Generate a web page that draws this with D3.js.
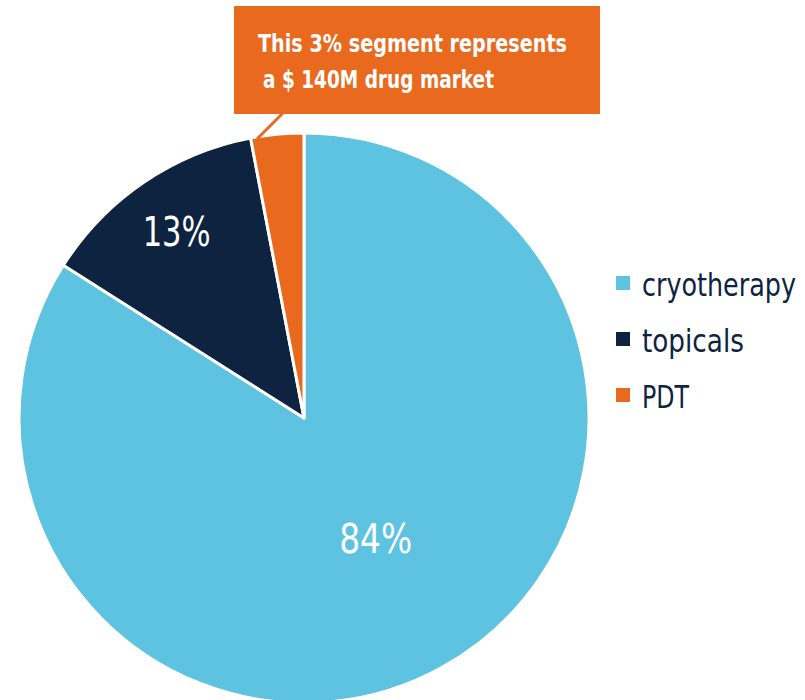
<!DOCTYPE html>
<html>
<head>
<meta charset="utf-8">
<script src="https://cdn.jsdelivr.net/npm/d3@7"></script>
<style>
  body { margin: 0; background: #fff; }
  text { font-family: "DejaVu Sans", sans-serif; font-stretch: condensed; }
</style>
</head>
<body>
<svg id="chart"></svg>
<script>
// data
var categories = ["cryotherapy", "topicals", "PDT"];
var shares = [84, 13, 3];
var pctLabels = ["84%", "13%", ""];
var calloutLines = ["This 3% segment represents", "a $ 140M drug market"];

var colors = ["#5ec3e1", "#0e2340", "#e96a1f"];

var width = 805,
  height = 700;

var svg = d3.select("#chart")
  .attr("width", width)
  .attr("height", height);

// squeeze a text to a given width (the original uses a narrow typeface)
function fitWidth(sel, w) {
  sel.each(function(d, i) {
    var t = d3.select(this);
    var target = typeof w === "function" ? w(d, i) : w;
    if (this.getComputedTextLength() > target) {
      t.attr("textLength", target).attr("lengthAdjust", "spacingAndGlyphs");
    }
  });
}

// same thing, but by scaling the text element itself horizontally
function squeezeX(sel, w) {
  sel.each(function(d, i) {
    var t = d3.select(this);
    var target = typeof w === "function" ? w(d, i) : w;
    var k = Math.min(1, target / this.getComputedTextLength());
    var x = +t.attr("x") || 0, y = +t.attr("y") || 0;
    t.attr("x", 0).attr("y", 0)
      .attr("transform", "translate(" + x + "," + y + ") scale(" + k + ",1)");
  });
}

// pie
var cx = 304, cy = 418, radius = 285;

var pie = d3.pie().sort(null).value(function(d) { return d; });
var arcs = pie(shares);

var arc = d3.arc().innerRadius(0).outerRadius(radius);

var g = svg.append("g")
  .attr("transform", "translate(" + cx + "," + cy + ")");

g.selectAll("path")
  .data(arcs)
  .enter().append("path")
  .attr("d", arc)
  .attr("fill", function(d, i) { return colors[i]; })
  .attr("stroke", "#fff")
  .attr("stroke-width", 3)
  .attr("stroke-linejoin", "round");

// label radius per slice (fraction of radius)
var labelR = [0.5, 0.77, 0.8];
var pctW = [73, 68, 0];
g.selectAll("text.pct")
  .data(arcs)
  .enter().append("text")
  .attr("class", "pct")
  .attr("transform", function(d, i) {
    var r = radius * labelR[i];
    var c = d3.arc().innerRadius(r).outerRadius(r).centroid(d);
    return "translate(" + (c[0] + (i === 0 ? 3 : -4)) + "," + c[1] + ")";
  })
  .attr("text-anchor", "middle")
  .attr("dy", "0.24em")
  .attr("fill", "#fff")
  .style("font-size", "41px")
  .text(function(d, i) { return pctLabels[i]; })
  .call(fitWidth, function(d, i) { return pctW[i]; });

// callout pointer from the PDT slice to the box
svg.append("line")
  .attr("x1", 257)
  .attr("y1", 139)
  .attr("x2", 283)
  .attr("y2", 113)
  .attr("stroke", colors[2])
  .attr("stroke-width", 3);

// callout box
var box = svg.append("g").attr("transform", "translate(234,6)");
box.append("rect")
  .attr("width", 366)
  .attr("height", 108)
  .attr("fill", colors[2]);

var calloutX = [24, 29], calloutW = [309, 231];
box.selectAll("text")
  .data(calloutLines)
  .enter().append("text")
  .attr("x", function(d, i) { return calloutX[i]; })
  .attr("y", function(d, i) { return 46 + i * 36; })
  .attr("fill", "#fff")
  .style("font-size", "25px")
  .style("font-weight", "bold")
  .text(function(d) { return d; })
  .call(fitWidth, function(d, i) { return calloutW[i]; });

// legend
var legendW = [154, 102, 47];
var legend = svg.append("g").attr("transform", "translate(616,283)");
var item = legend.selectAll("g")
  .data(categories)
  .enter().append("g")
  .attr("transform", function(d, i) { return "translate(0," + (i * 56) + ")"; });

item.append("rect")
  .attr("y", -7)
  .attr("width", 14)
  .attr("height", 14)
  .attr("fill", function(d, i) { return colors[i]; });

item.append("text")
  .attr("x", 26)
  .attr("y", 13)
  .attr("fill", "#0e2340")
  .style("font-size", "32px")
  .text(function(d) { return d; })
  .call(squeezeX, function(d, i) { return legendW[i]; });
</script>
</body>
</html>
